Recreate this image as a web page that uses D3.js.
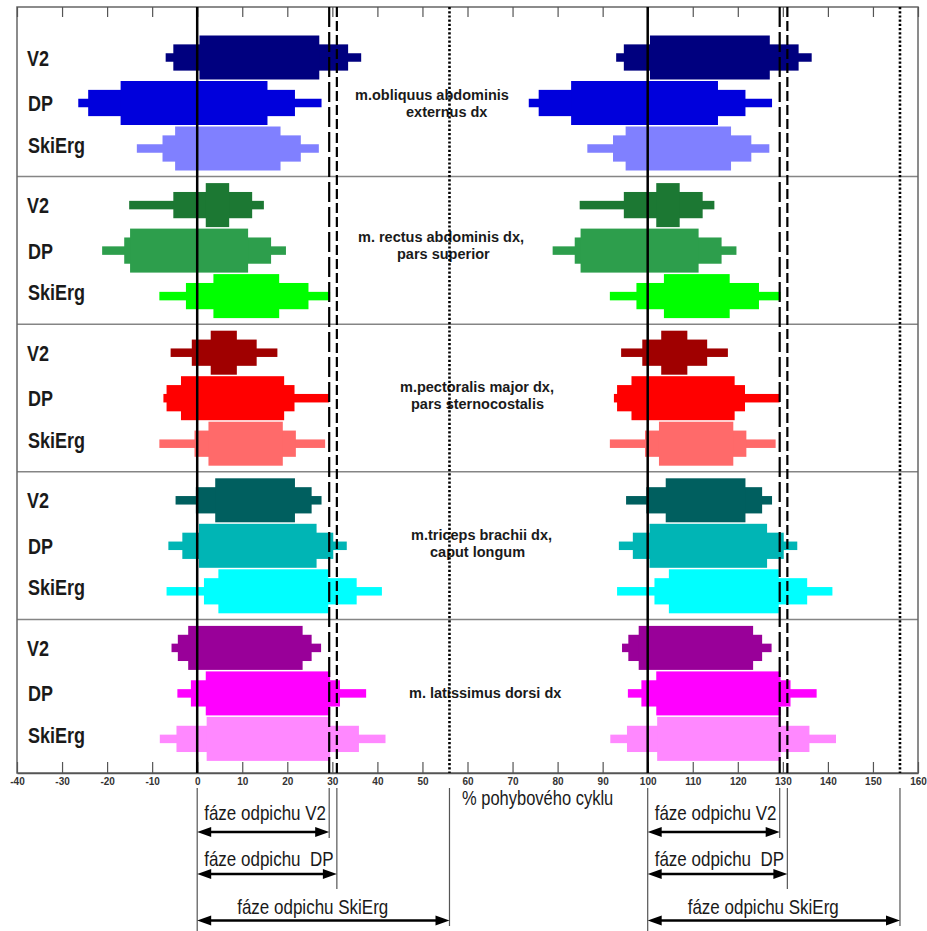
<!DOCTYPE html>
<html><head><meta charset="utf-8">
<script src="https://cdn.jsdelivr.net/npm/d3@7"></script>
<style>
body{margin:0;background:#fff}
svg{display:block;font-family:"Liberation Sans",Arial,sans-serif}
</style>
</head><body>
<svg id="chart" width="927" height="931"></svg>
<script>
// ---------------- DATA ----------------
const techniques = ["V2", "DP", "SkiErg"];
const muscleLabels = [
  ["m.obliquus abdominis", "externus dx"],
  ["m. rectus abdominis dx,", "pars superior"],
  ["m.pectoralis major dx,", "pars sternocostalis"],
  ["m.triceps brachii dx,", "caput longum"],
  ["m. latissimus dorsi dx"]
];
const levels = [1, 2, 3]; // activation level (1 = low, 3 = high)
// activation intervals [start %, end %] per technique (V2, DP, SkiErg), per level 1..3
const obliquus = [
  [[-7.0, 36.4], [-5.3, 33.5], [0.5, 27.1]],
  [[-26.4, 27.6], [-24.2, 21.7], [-17.0, 15.6]],
  [[-13.4, 27.0], [-7.7, 23.0], [-4.9, 18.5]]
];
const rectus = [
  [[-15.1, 14.8], [-5.3, 12.2], [1.9, 7.1]],
  [[-21.1, 19.7], [-16.2, 16.4], [-14.9, 11.3]],
  [[-8.4, 29.5], [-2.5, 24.7], [3.6, 18.2]]
];
const pectoralis = [
  [[-5.9, 17.8], [-1.2, 13.2], [3.0, 8.8]],
  [[-7.5, 29.3], [-6.8, 21.6], [-3.6, 19.3]],
  [[-8.4, 28.4], [-0.6, 21.9], [2.5, 19.0]]
];
const triceps = [
  [[-4.8, 27.6], [-0.3, 25.4], [4.0, 21.7]],
  [[-6.4, 33.2], [-3.3, 30.2], [0.4, 26.5]],
  [[-6.8, 41.0], [1.5, 35.4], [4.7, 29.1]]
];
const latissimus = [
  [[-5.7, 27.5], [-4.3, 25.4], [-2.0, 23.4]],
  [[-4.4, 37.5], [-1.4, 31.7], [1.9, 29.5]],
  [[-8.3, 41.8], [-4.6, 35.9], [2.1, 29.5]]
];
const muscleData = [obliquus, rectus, pectoralis, triceps, latissimus];
const phaseEnds = [29.3, 31.0, 56.0]; // end of push-off phase: V2, DP, SkiErg
const phaseLabels = ["fáze odpichu V2", "fáze odpichu  DP", "fáze odpichu SkiErg"];
const cycleStarts = [0, 100];
const xTicks = [-40, -30, -20, -10, 0, 10, 20, 30, 40, 50, 60, 70, 80, 90, 100, 110, 120, 130, 140, 150, 160];
const axisTitle = "% pohybového cyklu";

// ---------------- STYLE / LAYOUT ----------------
const palette = [
  ["#00007f", "#0000dc", "#8080ff"],
  ["#1c7833", "#2d9e4c", "#00ff00"],
  ["#a00000", "#ff0000", "#ff6a6a"],
  ["#005f5f", "#00b5b5", "#00ffff"],
  ["#990099", "#ff00ff", "#ff88ff"]
];
const STRETCH = 1.18;
const labelLayout = [ // [x start, baseline offset from middle row] per line
  [[355, -3], [406, 14]],
  [[358, -8.6], [397, 8.4]],
  [[400, -6.2], [411, 10.8]],
  [[411, -5.8], [430, 11.2]],
  [[409, 5]]
];
const rowLabelDy = {V2: 8, DP: 8, SkiErg: 4};
const phaseStyle = [
  {dash: "20,5", w: 2.2, below: 838},
  {dash: "10,4", w: 2.2, below: 889},
  {dash: "2.2,2", w: 2.6, below: 926}
];
const arrowY = [832, 874, 920.5];
const arrowTextY = [820, 866, 913.5];
const arrowTextDx = [7, 7, 40];

// ---------------- DRAW ----------------
const svg = d3.select("#chart");
const plotTop = 7, plotBottom = 773;
const x = d3.scaleLinear().domain([-40, 160]).range([17, 918]);
const panel = d3.scaleBand().domain(d3.range(muscleData.length)).range([29, 767]);
const row = d3.scalePoint().domain(techniques).range([28.5, 119.5]);
const h = d3.scaleLinear().domain([1, 3]).range([8.5, 44]);

function txt(g, px, py, s, size, weight, fill, sy) {
  return g.append("text")
    .attr("transform", `translate(${px},${py}) scale(1,${sy === undefined ? STRETCH : sy})`)
    .attr("font-size", size).attr("font-weight", weight)
    .attr("fill", fill).attr("xml:space", "preserve")
    .style("white-space", "pre").text(s);
}

// panel separators
svg.append("g").selectAll("line").data(d3.range(1, muscleData.length)).join("line")
  .attr("x1", x(-40)).attr("x2", x(160))
  .attr("y1", d => panel(d)).attr("y2", d => panel(d))
  .attr("stroke", "#858585").attr("stroke-width", 1.5);

// bars
const barG = svg.append("g");
muscleData.forEach((m, i) => {
  techniques.forEach((t, j) => {
    const cy = panel(i) + row(t);
    cycleStarts.forEach(o => {
      barG.append("g").selectAll("rect").data(levels).join("rect")
        .attr("x", lv => x(m[j][lv - 1][0] + o))
        .attr("width", lv => x(m[j][lv - 1][1] + o) - x(m[j][lv - 1][0] + o))
        .attr("y", lv => cy - h(lv) / 2)
        .attr("height", lv => h(lv))
        .attr("fill", palette[i][j]);
    });
  });
});

// row labels and muscle labels
const labG = svg.append("g");
muscleData.forEach((m, i) => {
  techniques.forEach(t => {
    txt(labG, t === "V2" ? 27 : 28, panel(i) + row(t) + rowLabelDy[t], t, 18, "bold", "#1a1a1a");
  });
  const mid = panel(i) + row("DP");
  muscleLabels[i].forEach((line, k) => {
    txt(labG, labelLayout[i][k][0], mid + labelLayout[i][k][1], line, 14.5, "bold", "#1a1a1a", 1);
  });
});

// frame
svg.append("rect").attr("x", x(-40)).attr("y", plotTop)
  .attr("width", x(160) - x(-40)).attr("height", plotBottom - plotTop)
  .attr("fill", "none").attr("stroke", "#666").attr("stroke-width", 1.5);

// axes
const bAxis = svg.append("g").attr("transform", `translate(0,${plotBottom})`)
  .call(d3.axisBottom(x).tickValues(xTicks).tickSizeInner(-11).tickSizeOuter(0)
    .tickPadding(5).tickFormat(d => String(d)));
bAxis.select(".domain").attr("stroke", "#555").attr("stroke-width", 1.5);
bAxis.selectAll(".tick line").attr("stroke", "#555").attr("stroke-width", 1.2);
bAxis.selectAll(".tick text").attr("font-size", 10).attr("font-weight", "bold")
  .attr("fill", "#333").attr("font-family", "'Liberation Sans',Arial,sans-serif");
const tAxis = svg.append("g").attr("transform", `translate(0,${plotTop})`)
  .call(d3.axisTop(x).tickValues(xTicks).tickSizeInner(-10).tickSizeOuter(0).tickFormat(""));
tAxis.select(".domain").remove();
tAxis.selectAll(".tick line").attr("stroke", "#555").attr("stroke-width", 1.2);

// phase lines
const lineG = svg.append("g");
cycleStarts.forEach(o => {
  lineG.append("line").attr("x1", x(o)).attr("x2", x(o)).attr("y1", plotTop).attr("y2", plotBottom)
    .attr("stroke", "#000").attr("stroke-width", 2.5);
  lineG.append("line").attr("x1", x(o)).attr("x2", x(o)).attr("y1", 788).attr("y2", 931)
    .attr("stroke", "#555").attr("stroke-width", 1.2);
  phaseEnds.forEach((e, k) => {
    lineG.append("line").attr("x1", x(o + e)).attr("x2", x(o + e)).attr("y1", plotTop).attr("y2", plotBottom)
      .attr("stroke", "#000").attr("stroke-width", phaseStyle[k].w)
      .attr("stroke-dasharray", phaseStyle[k].dash);
    lineG.append("line").attr("x1", x(o + e)).attr("x2", x(o + e)).attr("y1", 788).attr("y2", phaseStyle[k].below)
      .attr("stroke", "#555").attr("stroke-width", 1.2);
    const x0 = x(o), x1 = x(o + e), y = arrowY[k];
    lineG.append("line").attr("x1", x0 + 8).attr("x2", x1 - 8).attr("y1", y).attr("y2", y)
      .attr("stroke", "#000").attr("stroke-width", 2.6);
    lineG.append("path").attr("d", `M${x0},${y}L${x0 + 14},${y - 5}L${x0 + 14},${y + 5}Z`).attr("fill", "#000");
    lineG.append("path").attr("d", `M${x1},${y}L${x1 - 14},${y - 5}L${x1 - 14},${y + 5}Z`).attr("fill", "#000");
    txt(lineG, x0 + arrowTextDx[k], arrowTextY[k], phaseLabels[k], 17, "normal", "#1a1a1a");
  });
});

// axis title
txt(svg, 462, 805, axisTitle, 16.5, "normal", "#1a1a1a");
</script>
</body></html>
